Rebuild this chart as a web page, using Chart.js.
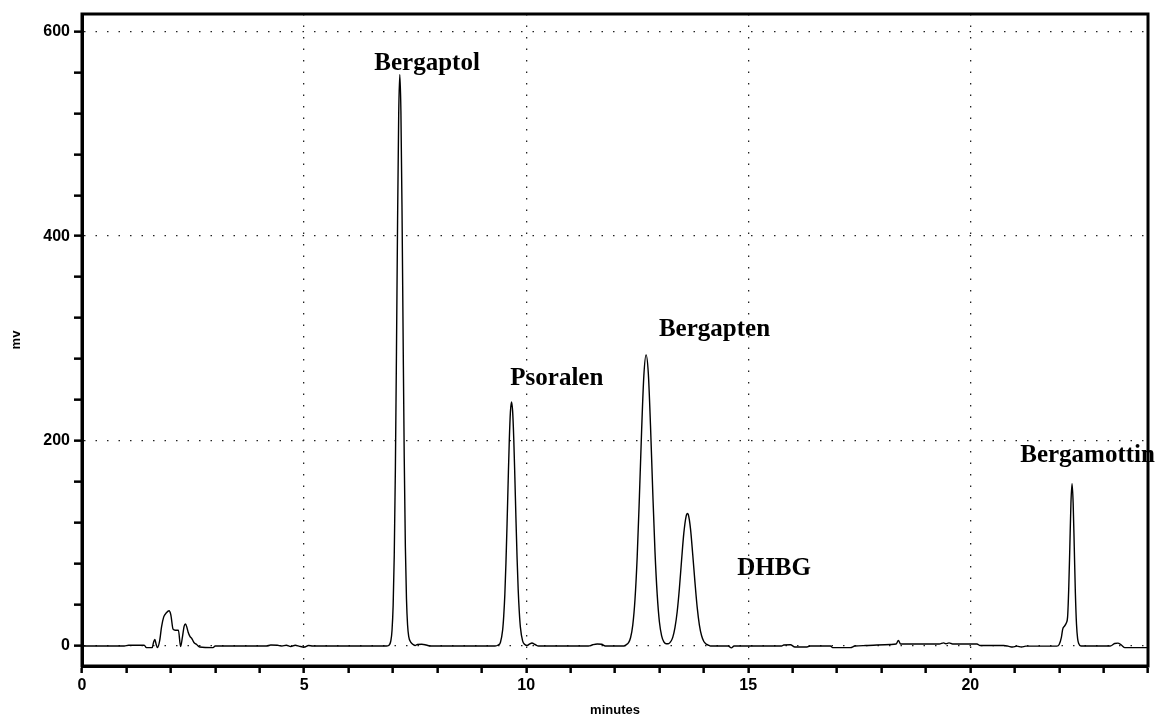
<!DOCTYPE html>
<html>
<head>
<meta charset="utf-8">
<script src="https://cdn.jsdelivr.net/npm/chart.js@4.4.0/dist/chart.umd.min.js"></script>
<style>
  body { margin: 0; background: #fff; }
  #wrap { width: 1158px; height: 719px; position: relative; }
</style>
</head>
<body>
<div id="wrap"><canvas id="chromChart"></canvas></div>
<script>
// retention time (minutes) and detector signal (mv)
const times = [
  0.00, 0.95, 1.05, 1.40, 1.45, 1.58, 1.61, 1.64, 1.67, 1.70,
  1.75, 1.79, 1.84, 1.90, 1.96, 2.00, 2.05, 2.10, 2.17, 2.22,
  2.26, 2.30, 2.33, 2.36, 2.39, 2.43, 2.47, 2.52, 2.58, 2.65,
  2.95, 3.00, 4.15, 4.25, 4.40, 4.50, 4.60, 4.70, 4.80, 4.90,
  5.00, 5.10, 5.20, 6.85,
  // Bergaptol
  6.905, 6.955, 6.98, 7.005, 7.03, 7.055, 7.08, 7.105, 7.13, 7.155,
  7.18, 7.205, 7.23, 7.255, 7.28, 7.305, 7.33, 7.355, 7.405, 7.455,
  7.50, 7.55, 7.65, 7.75, 7.85, 9.30,
  // Psoralen
  9.37, 9.42, 9.47, 9.495, 9.52, 9.545, 9.57, 9.595, 9.62, 9.645,
  9.67, 9.695, 9.72, 9.745, 9.77, 9.795, 9.82, 9.845, 9.87, 9.92,
  9.97, 10.02, 10.08, 10.13, 10.20, 10.28, 11.40, 11.50, 11.60, 11.70,
  11.78, 12.20,
  // Bergapten + following peak
  12.25, 12.30, 12.35, 12.40, 12.45, 12.50, 12.55, 12.60, 12.65, 12.70,
  12.75, 12.80, 12.85, 12.90, 12.95, 13.00, 13.05, 13.10, 13.15, 13.20,
  13.25, 13.30, 13.35, 13.40, 13.45, 13.50, 13.55, 13.60, 13.63, 13.65,
  13.70, 13.75, 13.80, 13.85, 13.90, 13.95, 14.00, 14.05, 14.10, 14.15,
  14.55, 14.62, 14.68, 15.75, 15.80, 15.95, 16.05, 16.30, 16.40, 16.85,
  16.90, 17.30, 17.40, 17.65, 18.20, 18.33, 18.38, 18.43, 18.60, 19.30,
  19.40, 19.45, 19.52, 19.60, 20.15, 20.22, 20.75, 20.85, 20.95, 21.05,
  21.15, 21.25, 21.95,
  // Bergamottin
  22.00, 22.05, 22.08, 22.12, 22.16, 22.19, 22.215, 22.24, 22.265, 22.29,
  22.315, 22.34, 22.365, 22.39, 22.415, 22.44, 22.49, 23.15, 23.25, 23.32,
  23.40, 23.48, 24.00
];
const mv = [
  -0.5, -0.5, 0.3, 0.3, -2, -2, 3, 6, 1, -2,
  5, 18, 28, 32, 34, 30, 16, 15, 15, -1,
  8, 19, 21, 18, 13, 9, 7, 3, 1, -1.5,
  -2, -0.5, -0.5, 0.5, 0.3, -0.5, 0.2, -1, 0.3, -0.8,
  -1.5, 0, -0.5, -0.5,
  0, 5, 15, 39, 88, 171, 287, 415, 518, 558,
  522, 425, 300, 183, 97, 46, 20, 9, 3, 1,
  0, 1, 1.2, 0.5, -0.5, -0.5,
  0.5, 3, 15, 29, 50, 81, 119, 161, 200, 228,
  238, 229, 203, 165, 124, 86, 55, 33, 18, 4.5,
  1, 0, 1.5, 2.5, 1, -0.5, -0.5, 0.8, 1.5, 1.2,
  -0.5, -0.5,
  0.7, 2.5, 7.6, 20, 45, 87, 146, 211, 264, 284,
  266, 214, 150, 92, 50, 23, 9.5, 3.5, 1.8, 1.7,
  3.5, 8, 17.5, 33, 56, 84, 110, 126, 129, 128,
  114, 89, 62, 37.5, 20, 9.5, 3.9, 1.5, 0.5, -0.5,
  -0.5, -2.3, -0.5, -0.5, 0.5, 0.8, -1.5, -1.5, -0.5, -0.5,
  -2, -2, -0.5, 0, 1, 1.5, 5, 1.5, 1.5, 1.5,
  2.6, 1.8, 2.6, 1.5, 1.5, 0, 0, -0.6, -1.5, -0.6,
  -1.5, -0.6, -0.6,
  1, 8, 16, 19, 22, 28, 55, 96, 139, 158,
  139, 96, 51, 21, 7, 2, -0.5, -0.5, 2, 2.3,
  0.5, -2, -2
];

// peak names and where their labels sit (minutes, mv)
const peakNames = ['Bergaptol', 'Psoralen', 'Bergapten', 'DHBG', 'Bergamottin'];
const peakLabelX = [7.77, 10.69, 14.24, 15.58, 22.64];
const peakLabelY = [569, 261, 309, 75, 186];

const xTickLabels = [0, 5, 10, 15, 20];
const yTickLabels = [0, 200, 400, 600];
const yMinorStep = 40;

const points = times.map(function (t, i) { return {x: t, y: mv[i]}; });

// box around the plot + peak names
const framePlugin = {
  id: 'frameAndNames',
  afterDraw: function (chart) {
    const ctx = chart.ctx;
    const a = chart.chartArea;
    const xs = chart.scales.x;
    const ys = chart.scales.y;
    ctx.save();
    ctx.strokeStyle = '#000';
    ctx.lineWidth = 3;
    ctx.strokeRect(a.left, a.top, a.right - a.left, a.bottom - a.top);

    ctx.fillStyle = '#000';
    ctx.font = 'bold 25px "Liberation Serif", "Times New Roman", serif';
    ctx.textAlign = 'center';
    ctx.textBaseline = 'middle';
    peakNames.forEach(function (name, i) {
      ctx.fillText(name, xs.getPixelForValue(peakLabelX[i]), ys.getPixelForValue(peakLabelY[i]));
    });
    ctx.restore();
  }
};

const ctx = document.getElementById('chromChart').getContext('2d');
const chromChart = new Chart(ctx, {
  type: 'line',
  data: {
    datasets: [{
      data: points,
      borderColor: '#000',
      borderWidth: 1.4,
      pointRadius: 0,
      fill: false,
      cubicInterpolationMode: 'monotone'
    }]
  },
  options: {
    responsive: true,
    maintainAspectRatio: false,
    animation: false,
    layout: { padding: { top: 14, right: 10, left: 0, bottom: 0 } },
    plugins: {
      legend: { display: false },
      tooltip: { enabled: false }
    },
    scales: {
      x: {
        type: 'linear',
        min: 0,
        max: 24,
        afterFit: function (scale) { scale.height = 53; },
        ticks: {
          stepSize: 1,
          autoSkip: false,
          maxRotation: 0,
          padding: 3,
          color: '#000',
          font: { family: '"Liberation Sans", Arial, sans-serif', size: 16, weight: 'bold' },
          callback: function (v) { return xTickLabels.indexOf(v) >= 0 ? String(v) : ''; }
        },
        grid: {
          color: function (c) { return c.tick && xTickLabels.indexOf(c.tick.value) >= 0 ? '#222' : 'rgba(0,0,0,0)'; },
          lineWidth: 1.3,
          tickColor: '#000',
          tickLength: 7,
          tickWidth: 2.5,
          tickBorderDash: []
        },
        border: { display: true, color: '#000', width: 3, dash: [1.5, 10] },
        title: {
          display: true,
          text: 'minutes',
          color: '#000',
          padding: { top: 0, bottom: 1 },
          font: { family: '"Liberation Sans", Arial, sans-serif', size: 13, weight: 'bold' }
        }
      },
      y: {
        type: 'linear',
        min: -20,
        max: 617,
        afterFit: function (scale) { scale.width = 82; },
        afterBuildTicks: function (scale) {
          const list = [];
          for (let v = 0; v <= 600; v += yMinorStep) list.push({value: v});
          scale.ticks = list;
        },
        ticks: {
          autoSkip: false,
          padding: 4,
          color: '#000',
          font: { family: '"Liberation Sans", Arial, sans-serif', size: 16, weight: 'bold' },
          callback: function (v) { return yTickLabels.indexOf(v) >= 0 ? String(v) : ''; }
        },
        grid: {
          color: function (c) { return c.tick && yTickLabels.indexOf(c.tick.value) >= 0 ? '#222' : 'rgba(0,0,0,0)'; },
          lineWidth: 1.3,
          tickColor: '#000',
          tickLength: 8,
          tickWidth: 2.5,
          tickBorderDash: []
        },
        border: { display: true, color: '#000', width: 3, dash: [1.5, 10] },
        title: {
          display: true,
          text: 'mv',
          color: '#000',
          padding: { top: 9, bottom: 0 },
          font: { family: '"Liberation Sans", Arial, sans-serif', size: 13, weight: 'bold' }
        }
      }
    }
  },
  plugins: [framePlugin]
});
</script>
</body>
</html>
